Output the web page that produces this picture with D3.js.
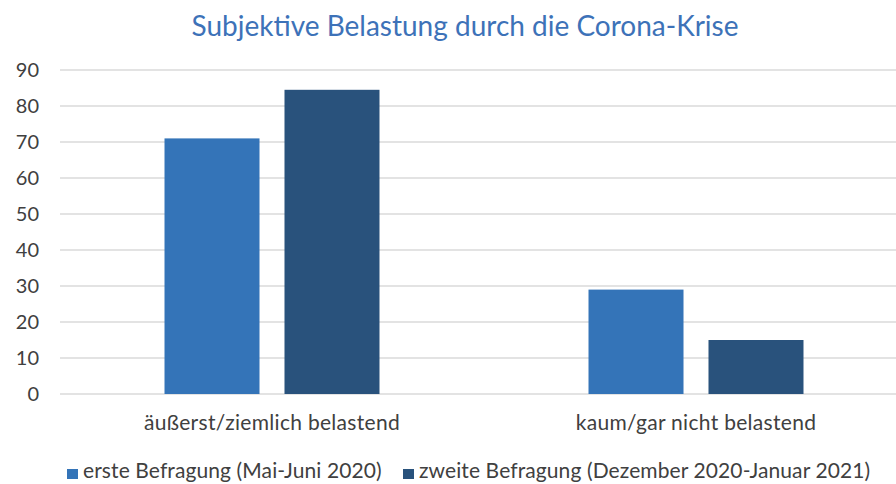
<!DOCTYPE html>
<html>
<head>
<meta charset="utf-8">
<script src="https://cdn.jsdelivr.net/npm/d3@7"></script>
<style>
  body { margin: 0; background: #fff; }
  svg { display: block; font-family: Lato, "Open Sans", sans-serif; }
</style>
</head>
<body>
<div id="chart"></div>
<script>
/* grouped bar chart: Belastung */

var title = "Subjektive Belastung durch die Corona-Krise";
var categories = ["äußerst/ziemlich belastend", "kaum/gar nicht belastend"];
var seriesNames = ["erste Befragung (Mai-Juni 2020)", "zweite Befragung (Dezember 2020-Januar 2021)"];
var erste = [71, 29];
var zweite = [84.5, 15];
var yTicks = [0, 10, 20, 30, 40, 50, 60, 70, 80, 90];

var colors = ["#3474b8", "#29527c"];

var W = 896, H = 484;
var margin = {top: 70, right: -12, bottom: 90, left: 60};

var svg = d3.select("#chart").append("svg")
	.attr("width", W)
	.attr("height", H);

// scales
var y = d3.scaleLinear()
	.domain([0, 90])
	.range([394, 70]);

var x0 = d3.scaleBand()
	.domain(categories)
	.range([margin.left, W - margin.right])
	.padding(0);

var x1 = d3.scaleBand()
	.domain(seriesNames)
	.range([0, x0.bandwidth()])
	.paddingInner(0.2083)
	.paddingOuter(0.871);

// gridlines
svg.append("g")
	.selectAll("line")
	.data(yTicks)
	.enter()
	.append("line")
	.attr("x1", margin.left)
	.attr("x2", W)
	.attr("y1", d => y(d))
	.attr("y2", d => y(d))
	.style("stroke", "#e3e3e3")
	.style("stroke-width", 2);

// y labels
svg.append("g")
	.selectAll("text")
	.data(yTicks)
	.enter()
	.append("text")
	.attr("x", 39)
	.attr("y", d => y(d))
	.attr("dy", "0.35em")
	.style("text-anchor", "end")
	.style("font-size", "20px")
	.style("fill", "#404040")
	.text(d => d);

// bars
var rows = categories.map((c, i) => ({cat: c, vals: [erste[i], zweite[i]]}));

var groups = svg.append("g")
	.selectAll("g")
	.data(rows)
	.enter()
	.append("g")
	.attr("transform", d => `translate(${x0(d.cat)},0)`);

groups.selectAll("rect")
	.data(d => d.vals.map((v, j) => ({name: seriesNames[j], v: v, j: j})))
	.enter()
	.append("rect")
	.attr("x", d => x1(d.name))
	.attr("width", x1.bandwidth())
	.attr("y", d => y(d.v))
	.attr("height", d => y(0) - y(d.v))
	.style("fill", d => colors[d.j]);

// category labels, centred under each group
svg.append("g")
	.selectAll("text")
	.data(categories)
	.enter()
	.append("text")
	.attr("x", d => x0(d) + x0.bandwidth() / 2)
	.attr("y", 430)
	.style("text-anchor", "middle")
	.style("font-size", "21px")
	.style("letter-spacing", "0.3px")
	.style("fill", "#404040")
	.text(d => d);

// title
svg.append("text")
	.attr("x", 465)
	.attr("y", 36)
	.style("text-anchor", "middle")
	.style("font-size", "28px")
	.style("fill", "#3d72b8")
	.text(title);

// legend
var legendX = [67, 403];
var legend = svg.append("g")
	.selectAll("g")
	.data(seriesNames)
	.enter()
	.append("g")
	.attr("transform", (d, i) => `translate(${legendX[i]},469)`);

legend.append("rect")
	.attr("width", 11)
	.attr("height", 10)
	.style("fill", (d, i) => colors[i]);

legend.append("text")
	.attr("x", 16)
	.attr("y", 9)
	.style("font-size", "21px")
	.style("letter-spacing", "0.1px")
	.style("fill", "#404040")
	.text(d => d);
</script>
</body>
</html>
